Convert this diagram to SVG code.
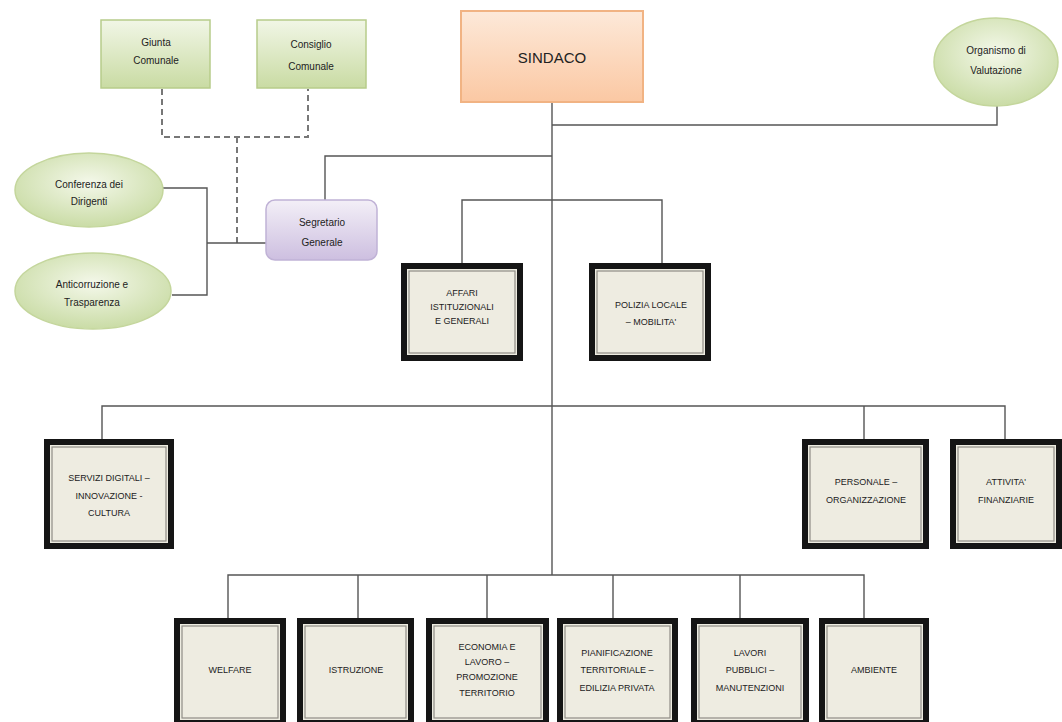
<svg xmlns="http://www.w3.org/2000/svg" width="1062" height="722" viewBox="0 0 1062 722">
<defs>
<linearGradient id="gGreen" x1="0" y1="0" x2="0" y2="1"><stop offset="0" stop-color="#f1f6e6"/><stop offset="1" stop-color="#c9dba3"/></linearGradient>
<radialGradient id="gEll" cx="0.5" cy="0.4" r="0.6"><stop offset="0" stop-color="#f4f8ea"/><stop offset="1" stop-color="#cadca6"/></radialGradient>
<linearGradient id="gPeach" x1="0" y1="0" x2="0" y2="1"><stop offset="0" stop-color="#fde9d9"/><stop offset="1" stop-color="#fbc8a3"/></linearGradient>
<linearGradient id="gPurple" x1="0" y1="0" x2="0" y2="1"><stop offset="0" stop-color="#f3eff7"/><stop offset="1" stop-color="#cdbfe0"/></linearGradient>
<style>
.ln{fill:none;stroke:#555;stroke-width:1.4}
.dash{fill:none;stroke:#777;stroke-width:2;stroke-dasharray:6 4}
.gbox{fill:url(#gGreen);stroke:#b7cc8a;stroke-width:1.5}
.gell{fill:url(#gEll);stroke:#c4d69c;stroke-width:1.5}
.box{fill:#eeece1;stroke:#151515;stroke-width:6}
.inner{fill:none;stroke:#8f8d86;stroke-width:1.2}
text{font-family:"Liberation Sans Narrow","Liberation Sans",Arial,sans-serif;fill:#222;text-anchor:middle}
.t{font-size:10px}
.b{font-size:9px}
</style>
</defs>
<g id="connectors">
<path class="dash" d="M162 89 V137 H308 V89 M237 137 V243"/>
<path class="ln" d="M163 188 H207 V295 H172 M207 243 H266"/>
<path class="ln" d="M325 200 V156 H552"/>
<path class="ln" d="M552 102 V575"/>
<path class="ln" d="M552 125 H997 V106"/>
<path class="ln" d="M462 265 V200 H662 V265"/>
<path class="ln" d="M102 440 V406 H1005 V440 M864 406 V440"/>
<path class="ln" d="M228 620 V575 H864 V620 M358 575 V620 M487 575 V620 M613 575 V620 M740 575 V620"/>
</g>
<g id="sindaco">
<rect x="461" y="11" width="182" height="91" fill="url(#gPeach)" stroke="#f1b383" stroke-width="2"/>
<text x="552" y="63" style="font-size:15px">SINDACO</text>
</g>
<g id="giunta">
<rect class="gbox" x="101" y="20" width="109" height="68"/>
<text class="t" x="156" y="46">Giunta</text><text class="t" x="156" y="64">Comunale</text>
</g>
<g id="consiglio">
<rect class="gbox" x="257" y="20" width="109" height="68"/>
<text class="t" x="311" y="48">Consiglio</text><text class="t" x="311" y="70">Comunale</text>
</g>
<g id="organismo">
<ellipse class="gell" cx="996" cy="62" rx="62" ry="44"/>
<text class="t" x="996" y="54">Organismo di</text><text class="t" x="996" y="74">Valutazione</text>
</g>
<g id="conferenza">
<ellipse class="gell" cx="89" cy="190" rx="74" ry="37"/>
<text class="t" x="89" y="188">Conferenza dei</text><text class="t" x="89" y="205">Dirigenti</text>
</g>
<g id="anticorruzione">
<ellipse class="gell" cx="93" cy="291" rx="78" ry="38"/>
<text class="t" x="92" y="288">Anticorruzione e</text><text class="t" x="92" y="306">Trasparenza</text>
</g>
<g id="segretario">
<rect x="266" y="200" width="111" height="60" rx="9" fill="url(#gPurple)" stroke="#c0b2d6" stroke-width="1.5"/>
<text class="t" x="322" y="226">Segretario</text><text class="t" x="322" y="246">Generale</text>
</g>
<g id="affari">
<rect class="box" x="404" y="266" width="116" height="92"/><rect class="inner" x="409" y="271" width="106" height="82"/>
<text class="b" x="462" y="296">AFFARI</text><text class="b" x="462" y="310">ISTITUZIONALI</text><text class="b" x="462" y="324">E GENERALI</text>
</g>
<g id="polizia">
<rect class="box" x="592" y="266" width="116" height="92"/><rect class="inner" x="597" y="271" width="106" height="82"/>
<text class="b" x="651" y="308">POLIZIA LOCALE</text><text class="b" x="651" y="325">– MOBILITA'</text>
</g>
<g id="servizi">
<rect class="box" x="47" y="442" width="124" height="104"/><rect class="inner" x="52" y="447" width="114" height="94"/>
<text class="b" x="109" y="481">SERVIZI DIGITALI –</text><text class="b" x="109" y="499">INNOVAZIONE -</text><text class="b" x="109" y="516">CULTURA</text>
</g>
<g id="personale">
<rect class="box" x="805" y="442" width="121" height="104"/><rect class="inner" x="810" y="447" width="111" height="94"/>
<text class="b" x="866" y="485">PERSONALE –</text><text class="b" x="866" y="503">ORGANIZZAZIONE</text>
</g>
<g id="attivita">
<rect class="box" x="953" y="442" width="106" height="104"/><rect class="inner" x="958" y="447" width="96" height="94"/>
<text class="b" x="1006" y="485">ATTIVITA'</text><text class="b" x="1006" y="503">FINANZIARIE</text>
</g>
<g id="welfare">
<rect class="box" x="177" y="621" width="106" height="102"/><rect class="inner" x="182" y="626" width="96" height="92"/>
<text class="b" x="230" y="673">WELFARE</text>
</g>
<g id="istruzione">
<rect class="box" x="300" y="621" width="111" height="102"/><rect class="inner" x="305" y="626" width="101" height="92"/>
<text class="b" x="356" y="673">ISTRUZIONE</text>
</g>
<g id="economia">
<rect class="box" x="429" y="621" width="117" height="102"/><rect class="inner" x="434" y="626" width="107" height="92"/>
<text class="b" x="487" y="650">ECONOMIA E</text><text class="b" x="487" y="665">LAVORO –</text><text class="b" x="487" y="680">PROMOZIONE</text><text class="b" x="487" y="696">TERRITORIO</text>
</g>
<g id="pianificazione">
<rect class="box" x="560" y="621" width="115" height="102"/><rect class="inner" x="565" y="626" width="105" height="92"/>
<text class="b" x="617" y="656">PIANIFICAZIONE</text><text class="b" x="617" y="673">TERRITORIALE –</text><text class="b" x="617" y="691">EDILIZIA PRIVATA</text>
</g>
<g id="lavori">
<rect class="box" x="694" y="621" width="112" height="102"/><rect class="inner" x="699" y="626" width="102" height="92"/>
<text class="b" x="750" y="656">LAVORI</text><text class="b" x="750" y="673">PUBBLICI –</text><text class="b" x="750" y="691">MANUTENZIONI</text>
</g>
<g id="ambiente">
<rect class="box" x="822" y="621" width="104" height="102"/><rect class="inner" x="827" y="626" width="94" height="92"/>
<text class="b" x="874" y="673">AMBIENTE</text>
</g>
</svg>
